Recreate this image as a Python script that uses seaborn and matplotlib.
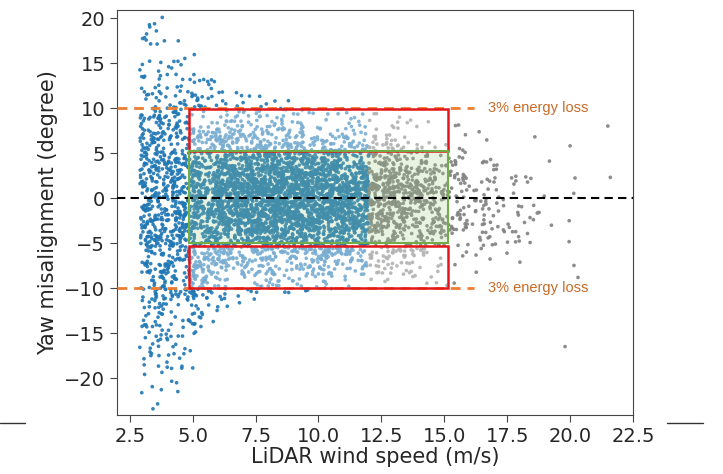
import numpy as np
import pandas as pd
import matplotlib
matplotlib.use("Agg")
import matplotlib.pyplot as plt
import seaborn as sns
from matplotlib.patches import Rectangle
from matplotlib.lines import Line2D

# Облако точек прочитано по полосам скорости ветра:
# границы полосы (м/с), число точек, центр и разброс рассогласования (град)
bin_lo = [2.9, 3.5, 4.0, 4.5, 5.0, 5.5, 6.0, 7.0, 8.0, 9.0, 10.0, 11.0, 12.0, 13.0, 14.0, 15.0, 16.0, 17.0, 18.0, 19.0]
bin_hi = [3.5, 4.0, 4.5, 5.1, 5.5, 6.0, 7.0, 8.0, 9.0, 10.0, 11.0, 12.0, 13.0, 14.0, 15.0, 16.0, 17.0, 18.0, 19.0, 20.5]
bin_count = [230, 210, 200, 220, 220, 220, 520, 560, 570, 550, 500, 440, 290, 220, 160, 80, 48, 30, 14, 8]
bin_center = [-1.5, -1.5, -1.0, -1.0, -0.5, -0.5, 0.0, 0.0, 0.0, 0.0, 0.0, 0.0, 0.0, -0.3, -0.5, -0.8, -1.0, -1.0, -1.0, 0.0]
bin_spread = [8.5, 8.5, 8.0, 7.5, 6.0, 5.3, 4.8, 4.4, 4.2, 4.0, 3.9, 3.8, 3.7, 3.6, 3.5, 3.5, 3.5, 3.5, 3.5, 4.0]

# отдельные выбросы справа
outlier_speed = [21.5, 21.6, 19.8, 20.0, 18.6]
outlier_yaw = [8.0, 2.3, -16.5, 5.8, 6.8]

gray_from = 12.0          # с этой скорости точки серые
loss_levels = [10, -10]   # 3% потери энергии
box_x = [4.85, 15.15]
green_y = [-5.0, 5.2]
red_upper = [5.2, 9.9]
red_lower = [-10.0, -5.3]
loss_text = "3% energy loss"

MASK = np.uint64(0xFFFFFFFF)


def pcg(x):
    x = (x * np.uint64(747796405) + np.uint64(2891336453)) & MASK
    shift = (x >> np.uint64(28)) + np.uint64(4)
    x = (((x >> shift) ^ x) * np.uint64(277803737)) & MASK
    return (x >> np.uint64(22)) ^ x


def hash01(k, salt):
    # целочисленный хеш -> [0, 1), без генератора случайных чисел
    x = pcg(pcg(k.astype(np.uint64) * np.uint64(3) + np.uint64(salt)))
    return x.astype(float) / 2.0 ** 32


speeds, yaws = [], []
n = 1
for lo, hi, cnt, mu, sd in zip(bin_lo, bin_hi, bin_count, bin_center, bin_spread):
    k = np.arange(n, n + cnt)
    u = hash01(k, 0)
    p = np.clip(hash01(k, 1), 0.036, 1.0)
    q = hash01(k, 2)
    z = np.sqrt(-2 * np.log(p)) * np.cos(2 * np.pi * q)
    speeds.append(lo + u * (hi - lo))
    yaws.append(mu + sd * z)
    n += cnt
speeds.append(np.array(outlier_speed))
yaws.append(np.array(outlier_yaw))

df = pd.DataFrame({"speed": np.concatenate(speeds), "yaw": np.concatenate(yaws)})
df["group"] = np.where(df["speed"] < gray_from, "low", "high")

sns.set_style("ticks")
plt.rcParams["font.family"] = ["DejaVu Sans"]

fig = plt.figure(figsize=(7.23, 4.74), dpi=100)
ax = fig.add_axes([0.162, 0.1245, 0.7135, 0.8545])

sns.scatterplot(data=df, x="speed", y="yaw", hue="group",
                palette={"low": "#1f77b4", "high": "#808080"},
                s=7, linewidth=0, alpha=0.9, legend=False, ax=ax, zorder=2)

# рамки
for y0, y1 in (red_upper, red_lower):
    ax.add_patch(Rectangle((box_x[0], y0), box_x[1] - box_x[0], y1 - y0,
                           facecolor="white", alpha=0.4, edgecolor="none", zorder=3))
    ax.add_patch(Rectangle((box_x[0], y0), box_x[1] - box_x[0], y1 - y0,
                           facecolor="none", edgecolor="#e3171b", lw=1.8, zorder=5))
ax.add_patch(Rectangle((box_x[0], green_y[0]), box_x[1] - box_x[0], green_y[1] - green_y[0],
                       facecolor="#a9d18e", alpha=0.25, edgecolor="none", zorder=3))
ax.add_patch(Rectangle((box_x[0], green_y[0]), box_x[1] - box_x[0], green_y[1] - green_y[0],
                       facecolor="none", edgecolor="#70ad47", lw=1.5, zorder=5))

ax.axhline(0, color="black", lw=1.5, ls=(0, (4, 2.5)), zorder=4)
for lvl in loss_levels:
    ax.plot([2.0, 16.2], [lvl, lvl], color="#ed7d31", lw=2, ls=(0, (3.5, 2.5)),
            zorder=4, clip_on=False)
    ax.text(16.75, lvl, loss_text, color="#c96a26", fontsize=10.5,
            family=["Liberation Sans", "DejaVu Sans"], va="center", ha="left", zorder=6)

ax.set_xlim(2.0, 22.5)
ax.set_ylim(-24.1, 20.9)
ax.set_xticks([2.5, 5.0, 7.5, 10.0, 12.5, 15.0, 17.5, 20.0, 22.5])
ax.set_xticklabels(["2.5", "5.0", "7.5", "10.0", "12.5", "15.0", "17.5", "20.0", "22.5"])
ax.set_yticks([-20, -15, -10, -5, 0, 5, 10, 15, 20])
ax.set_yticklabels(["\u221220", "\u221215", "\u221210", "\u22125", "0", "5", "10", "15", "20"])
ax.tick_params(labelsize=14, color="#444444", length=5)
for sp in ax.spines.values():
    sp.set_color("#444444")
ax.set_xlabel("LiDAR wind speed (m/s)", fontsize=15, labelpad=1)
ax.set_ylabel("Yaw misalignment (degree)", fontsize=15)

# обрезки линий по краям картинки
fig.add_artist(Line2D([0.0, 0.035], [0.1076, 0.1076], color="#333333", lw=1))
fig.add_artist(Line2D([0.922, 0.973], [0.1076, 0.1076], color="#333333", lw=1))

fig.savefig("out.png", dpi=100)
